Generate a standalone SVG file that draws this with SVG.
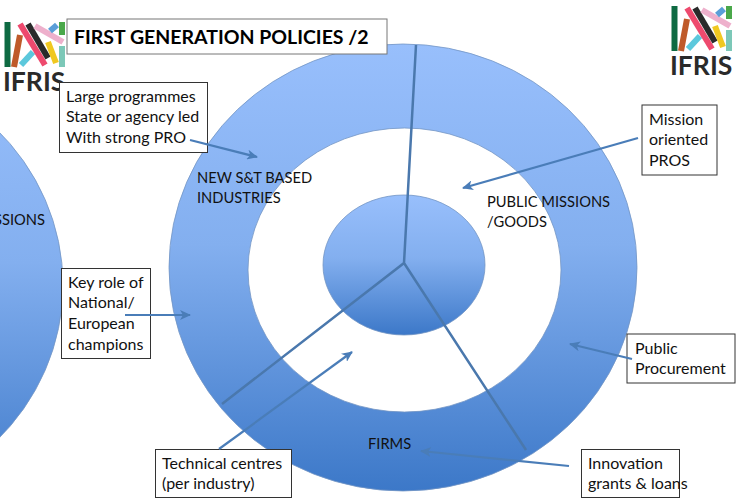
<svg xmlns="http://www.w3.org/2000/svg" width="736" height="500" viewBox="0 0 736 500">
<style>
.t{font-family:Lato,"Open Sans","Liberation Sans",sans-serif;font-size:16px;fill:#111}
.l{font-family:Lato,"Open Sans","Liberation Sans",sans-serif;font-size:14.700px;fill:#111}
.b{fill:#fff;stroke:#333;stroke-width:1}
.c{fill:none;stroke:#4a78ad;stroke-width:2.500}
.a{fill:none;stroke:#4a7db8;stroke-width:2.200;marker-end:url(#ah)}
.ring{fill:url(#g);stroke:#7396c4;stroke-width:.8}
.bar{stroke-width:6;fill:none}
</style>
<defs>
<linearGradient id="g" x1="0" y1="0" x2="0" y2="1"><stop offset="0" stop-color="#98bffc"/><stop offset=".45" stop-color="#83afef"/><stop offset="1" stop-color="#3c78c8"/></linearGradient>
<marker id="ah" markerWidth="11" markerHeight="10" refX="10" refY="5" orient="auto" markerUnits="userSpaceOnUse"><path d="M0 0L11 5L0 10L3 5Z" fill="#4a7db8"/></marker>
<g id="logo">
<path class="bar" stroke="#0e6a42" d="M7.500 22V67"/>
<path class="bar" stroke="#bf5a2a" d="M20 35L14 67"/>
<path class="bar" stroke="#5cc8dc" d="M33 52L21 65"/>
<path class="bar" stroke="#ee4a6e" d="M20 24L45 65"/>
<path class="bar" stroke="#2a2a2a" d="M28 24L48 58"/>
<path class="bar" stroke="#eeb0cc" d="M35 26L63 42"/>
<path class="bar" stroke="#5a9ed8" d="M50 31L57 25"/>
<path class="bar" stroke="#4aa84a" d="M62 22V35"/>
<path class="bar" stroke="#f0c820" d="M48 42L56 63"/>
<path class="bar" stroke="#7cc8b8" d="M62 46V67"/>
<text x="3" y="91" font-family="Lato,Open Sans,Liberation Sans,sans-serif" font-size="26.500" font-weight="700" fill="#2a2a2a">IFRIS</text>
</g>
</defs>
<rect width="736" height="500" fill="#fff"/>
<g id="left-ring"><ellipse class="ring" cx="-171" cy="285" rx="234" ry="223"/><text class="l" x="-6" y="225">SSIONS</text></g>
<g id="outer-ring"><path class="ring" fill-rule="evenodd" d="M169 267.500a234 223.500 0 1 0 468 0a234 223.500 0 1 0-468 0ZM248 270a156.500 142 0 1 1 313 0a156.500 142 0 1 1-313 0Z"/></g>
<g id="core"><ellipse class="ring" cx="404" cy="265" rx="81" ry="70"/></g>
<use id="logo-left" href="#logo"/>
<use id="logo-right" href="#logo" x="667" y="-16"/>
<g id="title"><rect x="67" y="19" width="320" height="35" fill="#fff" stroke="#777" stroke-width="1"/><text x="74" y="44" font-family="Lato,Open Sans,Liberation Sans,sans-serif" font-size="19.500" font-weight="700" fill="#000">FIRST GENERATION POLICIES /2</text></g>
<g id="n-large"><rect class="b" x="59.500" y="82.500" width="148" height="70"/><text class="t" x="66" y="102">Large programmes</text><text class="t" x="66" y="122">State or agency led</text><text class="t" x="66" y="143">With strong PRO</text></g>
<g id="n-mission"><rect class="b" x="642" y="105" width="75" height="70" stroke="#555"/><text class="t" x="649" y="125">Mission</text><text class="t" x="649" y="145">oriented</text><text class="t" x="649" y="166">PROS</text></g>
<g id="n-key"><rect class="b" x="61.500" y="268.500" width="89" height="90"/><text class="t" x="68" y="288">Key role of</text><text class="t" x="68" y="308">National/</text><text class="t" x="68" y="329">European</text><text class="t" x="68" y="350">champions</text></g>
<g id="n-public"><rect class="b" x="627" y="334" width="108" height="49"/><text class="t" x="635" y="354">Public</text><text class="t" x="635" y="374">Procurement</text></g>
<g id="n-tech"><rect class="b" x="155.500" y="449.500" width="136" height="48"/><text class="t" x="162" y="469">Technical centres</text><text class="t" x="162" y="489">(per industry)</text></g>
<g id="n-innov"><rect class="b" x="581.500" y="449.500" width="98" height="48"/><text class="t" x="588" y="469">Innovation</text><text class="t" x="588" y="489">grants &amp; loans</text></g>
<g id="labels">
<text class="l" x="197" y="183">NEW S&amp;T BASED</text><text class="l" x="197" y="203">INDUSTRIES</text>
<text class="l" x="487" y="207">PUBLIC MISSIONS</text><text class="l" x="487" y="227">/GOODS</text>
<text class="l" x="368" y="449">FIRMS</text>
</g>
<g id="connectors">
<path class="c" d="M416 45L404 263L222 404M404 263L526 450"/>
<path class="a" d="M190 140L257 157"/>
<path class="a" d="M638 138L463 188"/>
<path class="a" d="M125 315L190 315"/>
<path class="a" d="M632 359L570 344"/>
<path class="a" d="M219 449L352 352"/>
<path class="a" d="M569 466L421 451"/>
</g>
</svg>
